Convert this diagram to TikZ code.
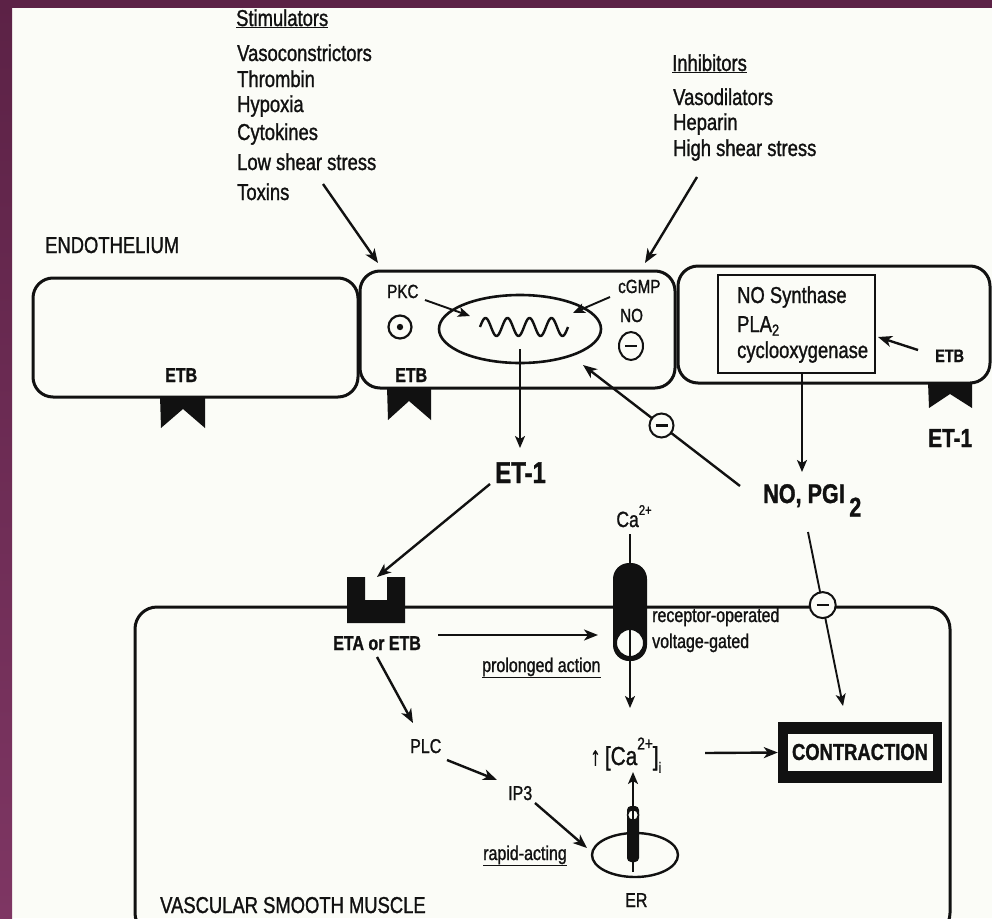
\documentclass[tikz,border=0pt]{standalone}
\usepackage{fontspec}
\setmainfont{Liberation Sans}[FakeStretch=0.8, FakeBold=1.2]
\usetikzlibrary{arrows.meta,shapes.geometric}
\definecolor{frameA}{HTML}{5C2246}
\definecolor{frameB}{HTML}{7E3663}
\definecolor{paper}{HTML}{FBFCF7}
\definecolor{ink}{HTML}{111111}
\begin{document}
\begin{tikzpicture}[x=1pt,y=-1pt,
  lw/.style={inner sep=0pt, text=ink, anchor=base west, font=\fontsize{23}{26}\selectfont},
  sml/.style={inner sep=0pt, text=ink, anchor=base west, font=\fontsize{19}{21}\selectfont},
  mdl/.style={inner sep=0pt, text=ink, anchor=base west, font=\fontsize{20}{22}\selectfont},
  bdl/.style={inner sep=0pt, text=ink, anchor=base west, font=\bfseries\fontsize{20}{22}\selectfont},
  bgl/.style={inner sep=0pt, text=ink, anchor=base west, font=\bfseries\fontsize{30}{32}\selectfont},
  cellbox/.style={draw=ink, line width=3pt, rounded corners=20pt, inner sep=0pt},
  arr/.style={draw=ink, line width=2.4pt, -{Stealth[length=14pt,width=11pt,inset=4pt]}},
  tarr/.style={draw=ink, line width=1.9pt, -{Stealth[length=12pt,width=10pt,inset=3pt]}},
  minusc/.style={draw=ink, fill=paper, line width=2pt, inner sep=0pt,
    path picture={\draw[-, ink, line width=2.2pt] ([xshift=-6pt]path picture bounding box.center) -- ([xshift=6pt]path picture bounding box.center);}}
]
\useasboundingbox (0,0) rectangle (992,918);
\clip (0,0) rectangle (992,918);
\fill[paper] (0,0) rectangle (992,918);

% ---------- stimulators ----------
\node[lw] (stimH) at (236,26) {\underline{Stimulators}};
\node[lw] (s1) at (237,61) {Vasoconstrictors};
\node[lw] (s2) at (237,87) {Thrombin};
\node[lw] (s3) at (237,112) {Hypoxia};
\node[lw] (s4) at (237,140) {Cytokines};
\node[lw] (s5) at (237,170) {Low shear stress};
\node[lw] (s6) at (237,200) {Toxins};
\coordinate (stimT) at (323,184);
\coordinate (stimE) at (378,263);
\draw[arr] (stimT) -- (stimE);

% ---------- inhibitors ----------
\node[lw] (inhH) at (672,71) {\underline{Inhibitors}};
\node[lw] (i1) at (673,105) {Vasodilators};
\node[lw] (i2) at (673,130) {Heparin};
\node[lw] (i3) at (673,156) {High shear stress};
\coordinate (inhT) at (697,177);
\coordinate (inhE) at (645,263);
\draw[arr] (inhT) -- (inhE);

\node[lw] (endo) at (45,253) {ENDOTHELIUM};

% ---------- endothelial cells ----------
\node[cellbox, minimum width=325, minimum height=119] (cellL) at (195.5,337.5) {};
\node[cellbox, minimum width=315, minimum height=117] (cellM) at (517.5,329.5) {};
\node[cellbox, minimum width=312, minimum height=117] (cellR) at (834,324.5) {};

% receptors under cells
\fill[ink] (160,396) -- (205,396) -- (205,428) -- (183,409) -- (161,428) -- cycle;
\fill[ink] (387,387) -- (431,387) -- (431,420) -- (409,401) -- (388,420) -- cycle;
\fill[ink] (928,382) -- (972,382) -- (972,408) -- (950,394) -- (929,408) -- cycle;
\node[bdl] (etbL) at (165,382) {ETB};
\node[bdl] (etbM) at (395,382) {ETB};

% middle cell contents
\node[sml] (pkc) at (387,298) {PKC};
\node[circle, draw=ink, line width=2.2pt, minimum size=23, inner sep=0pt] (plus) at (400,327) {};
\fill[ink] (plus.center) circle[radius=3.2];
\node[ellipse, draw=ink, line width=2.6pt, minimum width=162, minimum height=68, inner sep=0pt] (nuc) at (520,329) {};
\draw[ink, line width=2.4pt] plot[domain=0:88, samples=120, smooth] ({480+\x},{327-9*sin(\x*16.3636)});
\coordinate (pkcT) at (425,300);
\coordinate (pkcE) at (470,316);
\draw[tarr] (pkcT) -- (pkcE);
\node[sml] (cgmp) at (618,293) {cGMP};
\node[sml] (noM) at (620,322) {NO};
\node[ellipse, minusc, minimum width=24, minimum height=28] (minM) at (631,346) {};
\coordinate (cgT) at (610,297);
\coordinate (cgE) at (573,313);
\draw[tarr] (cgT) -- (cgE);
\coordinate (nucOut) at (520,349);
\coordinate (et1In) at (520,448);
\draw[tarr] (nucOut) -- (et1In);
\node[bgl] (et1) at (495,483) {ET-1};

% right cell contents
\node[draw=ink, line width=2.6pt, minimum width=157, minimum height=98, inner sep=0pt] (enz) at (796.5,324) {};
\node[lw] (nos) at (737,303) {NO Synthase};
\node[lw] (pla) at (737,332) {PLA\textsubscript{2}};
\node[lw] (cox) at (737,358) {cyclooxygenase};
\node[bdl, font=\bfseries\fontsize{18}{20}\selectfont] (etbR) at (935,362) {ETB};
\coordinate (etbRT) at (918,350);
\coordinate (etbRE) at (878,337);
\draw[arr] (etbRT) -- (etbRE);
\node[bgl, font=\bfseries\fontsize{26}{28}\selectfont] (et1R) at (928,447) {ET-1};
\coordinate (enzOut) at (802,373);
\coordinate (nopIn) at (802,472);
\draw[tarr] (enzOut) -- (nopIn);
\node[bgl, font=\bfseries\fontsize{27}{30}\selectfont] (nopgi) at (763,503) {NO, PGI\,\raisebox{-0.5em}{2}};

% NO -> nucleus (inhibition)
\coordinate (noT) at (740,486);
\coordinate (noE) at (583,365);
\draw[arr] (noT) -- (noE) node[pos=0.5, circle, minusc, minimum size=24] (minA) {};

% ---------- vascular smooth muscle ----------
\node[cellbox, rounded corners=22pt, minimum width=815, minimum height=328] (vsm) at (542.5,771) {};
\fill[ink] (347,577) -- (365,577) -- (365,600) -- (387,600) -- (387,577) -- (405,577) -- (405,623) -- (347,623) -- cycle;
\coordinate (et1T) at (490,484);
\coordinate (rcpE) at (377,577);
\draw[arr] (et1T) -- (rcpE);
\node[bdl] (etab) at (333,650) {ETA or ETB};
\coordinate (etabR) at (438,635);
\coordinate (chanL) at (598,635);
\draw[arr] (etabR) -- (chanL);
\node[mdl] (prol) at (482,672) {\underline{prolonged action}};

% calcium channel
\node[inner sep=0pt, text=ink, anchor=base, font=\fontsize{22}{24}\selectfont] (ca) at (634,527) {Ca\raisebox{0.55em}{\fontsize{14}{14}\selectfont 2+}};
\coordinate (caLine) at (630,534);
\coordinate (caTop) at (630,563);
\draw[ink, line width=2pt] (caLine) -- (caTop);
\fill[ink, rounded corners=16pt] (613,563) rectangle (647,661);
\node[circle, draw=ink, fill=paper, line width=2pt, minimum size=28, inner sep=0pt] (gate) at (630,643) {};
\coordinate (chanOut) at (630,626);
\coordinate (caiIn) at (630,708);
\draw[tarr] (chanOut) -- (caiIn);
\node[mdl] (rop) at (652,622) {receptor-operated};
\node[mdl] (vg) at (652,648) {voltage-gated};

% NO -> contraction (inhibition)
\coordinate (no2T) at (808,532);
\coordinate (no2E) at (843,706);
\draw[tarr] (no2T) -- (no2E) node[pos=0.42, circle, minusc, minimum size=26] (minB) {};

% [Ca2+]i and contraction
\node[inner sep=0pt, text=ink, anchor=base west, font=\fontsize{26}{28}\selectfont] (cai) at (590,765) {↑\,[Ca\raisebox{0.6em}{\fontsize{17}{17}\selectfont 2+}]\raisebox{-0.3em}{\fontsize{15}{15}\selectfont i}};
\node[fill=ink, minimum width=164, minimum height=61, inner sep=0pt] (contrF) at (860,752.5) {};
\node[draw=ink, fill=paper, line width=1pt, minimum width=146, minimum height=38, inner sep=0pt, text=ink, font=\bfseries\fontsize{23}{25}\selectfont] (contr) at (860,752) {CONTRACTION};
\coordinate (caiOut) at (705,753);
\draw[arr] (caiOut) -- (contrF.west);

% PLC / IP3 pathway
\coordinate (etabD) at (377,657);
\coordinate (plcIn) at (413,723);
\draw[arr] (etabD) -- (plcIn);
\node[mdl] (plc) at (410,753) {PLC};
\coordinate (plcOut) at (447,760);
\coordinate (ip3In) at (497,780);
\draw[arr] (plcOut) -- (ip3In);
\node[mdl] (ip3) at (508,800) {IP3};
\coordinate (ip3Out) at (535,803);
\coordinate (erIn) at (587,848);
\draw[arr] (ip3Out) -- (erIn);
\node[mdl] (rapid) at (483,860) {\underline{rapid-acting}};

% ER
\node[ellipse, draw=ink, line width=2.4pt, minimum width=86, minimum height=44, inner sep=0pt] (er) at (635,855) {};
\node[mdl] (erL) at (625,907) {ER};
\fill[ink, rounded corners=4pt] (627,806) rectangle (639,862);
\node[circle, draw=ink, fill=paper, line width=1.5pt, minimum size=11, inner sep=0pt] (erGate) at (633,815) {};
\coordinate (erOut) at (633,872);
\coordinate (caiUp) at (633,772);
\draw[tarr] (erOut) -- (caiUp);

\node[lw] (vsmL) at (160,913) {VASCULAR SMOOTH MUSCLE};

% ---------- frame ----------
\shade[top color=frameA, bottom color=frameB] (0,0) rectangle (12,918);
\fill[frameA] (0,0) rectangle (992,8);
\end{tikzpicture}
\end{document}
